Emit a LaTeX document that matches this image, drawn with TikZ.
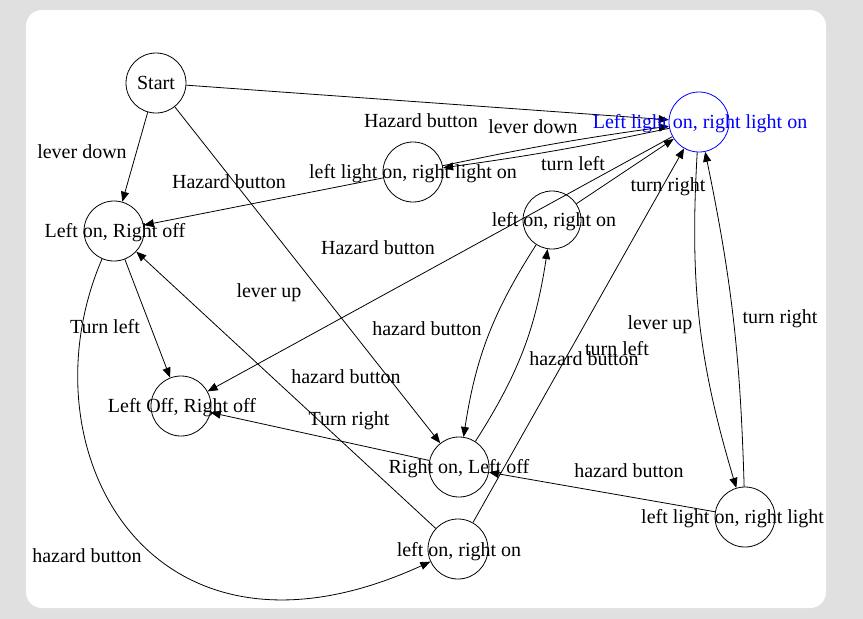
\documentclass[tikz,border=0pt]{standalone}
\usepackage{fontspec}
\setmainfont{Liberation Serif}
\usetikzlibrary{arrows.meta}
\definecolor{bggray}{RGB}{224,224,224}
\definecolor{nodeblue}{RGB}{0,0,255}
\begin{document}
\begin{tikzpicture}[x=1pt,y=-1pt,
  state/.style={circle,draw,line width=0.8pt,minimum size=60pt,inner sep=0pt},
  stxt/.style={font=\fontsize{20}{24}\selectfont,inner sep=0pt,text height=17.8pt,text depth=4.3pt},
  lbl/.style={font=\fontsize{20}{24}\selectfont,inner sep=0pt,text height=17.8pt,text depth=4.3pt},
  edge/.style={line width=0.8pt,-{Triangle[length=10pt,width=8pt]}}]
\useasboundingbox (0,0) rectangle (863,619);
\fill[bggray] (0,0) rectangle (863,619);
\fill[white,rounded corners=16pt] (26,10) rectangle (826,608);
% states
\node[state] (start) at (156,83) {};
\node[state,draw=nodeblue] (llrl) at (699,122) {};
\node[state] (h1) at (413,172) {};
\node[state] (lr) at (114,231) {};
\node[state,minimum size=58pt] (lor) at (552,220) {};
\node[state] (loff) at (181,406) {};
\node[state] (rol) at (459,467) {};
\node[state] (lorb) at (458,549) {};
\node[state] (ll2) at (745,517) {};
% connectors
\draw[edge] (start) -- (llrl);
\draw[edge] (start) -- (lr);
\draw[edge] (start) -- (rol);
\draw[edge] (llrl) to[bend left=2] (h1);
\draw[edge] (h1) to[bend left=2] (llrl);
\draw[edge] (h1) -- (lr);
\draw[edge] (llrl) -- (loff);
\draw[edge] (lor) -- (llrl);
\draw[edge] (lorb) -- (llrl);
\draw[edge] (lor) to[bend right=12] (rol);
\draw[edge] (rol) to[bend right=12] (lor);
\draw[edge] (lr) -- (loff);
\draw[edge] (rol) -- (loff);
\draw[edge] (lorb) -- (lr);
\draw[edge] (lr) .. controls (20,450) and (150,690) .. (lorb);
\draw[edge] (llrl) to[bend right=10] (ll2);
\draw[edge] (ll2) to[bend right=5] (llrl);
\draw[edge] (ll2) -- (rol);
% state texts
\node[stxt] (tstart) at (156,83) {Start};
\node[stxt,text=nodeblue] (tllrl) at (700,122) {Left light on, right light on};
\node[stxt] (th1) at (413,172) {left light on, right light on};
\node[stxt] (tlr) at (115,231) {Left on, Right off};
\node[stxt] (tlor) at (554,220) {left on, right on};
\node[stxt] (tloff) at (182,406) {Left Off, Right off};
\node[stxt] (trol) at (459,467) {Right on, Left off};
\node[stxt] (tlorb) at (459,550) {left on, right on};
\node[stxt,anchor=west] (tll2) at (641,517) {left light on, right light};
% edge labels
\node[lbl] (l1) at (82,152) {lever down};
\node[lbl] (l2) at (421,121) {Hazard button};
\node[lbl] (l3) at (533,127) {lever down};
\node[lbl] (l4) at (573,164) {turn left};
\node[lbl] (l5) at (229,182) {Hazard button};
\node[lbl] (l6) at (668,185) {turn right};
\node[lbl] (l7) at (378,248) {Hazard button};
\node[lbl] (l8) at (269,291) {lever up};
\node[lbl] (l9) at (660,323) {lever up};
\node[lbl] (l10) at (780,317) {turn right};
\node[lbl] (l11) at (427,329) {hazard button};
\node[lbl] (l12) at (105,327) {Turn left};
\node[lbl] (l13) at (617,349) {turn left};
\node[lbl] (l14) at (584,359) {hazard button};
\node[lbl] (l15) at (346,377) {hazard button};
\node[lbl] (l16) at (349,419) {Turn right};
\node[lbl] (l17) at (629,471) {hazard button};
\node[lbl] (l18) at (87,556) {hazard button};
\end{tikzpicture}
\end{document}
